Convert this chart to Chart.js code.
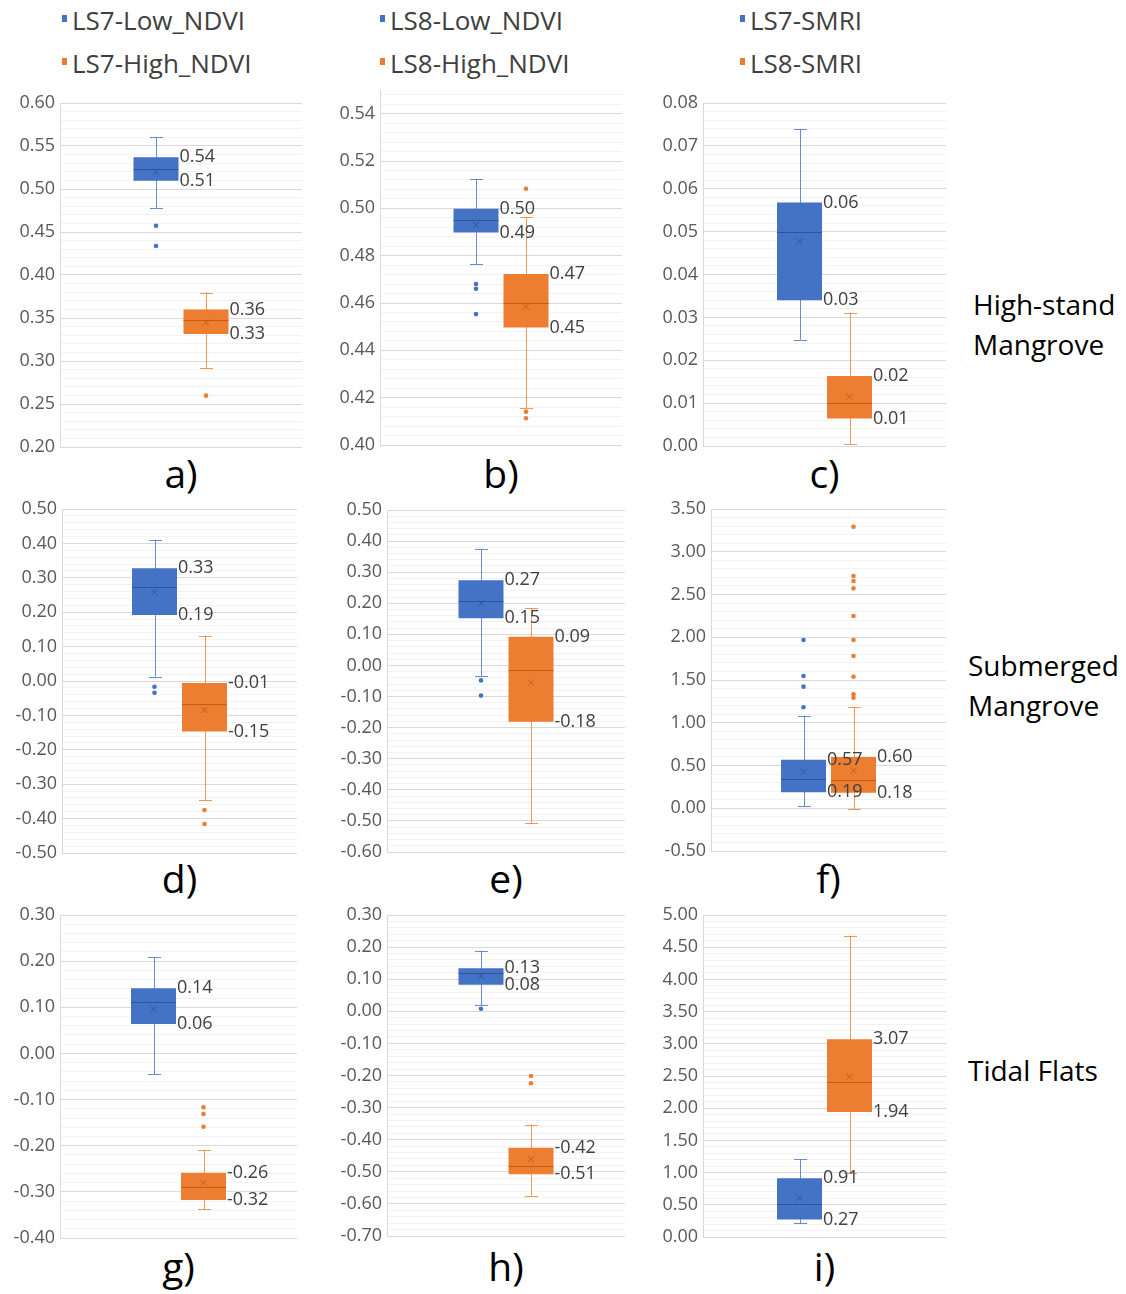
<!DOCTYPE html>
<html>
<head>
<meta charset="utf-8">
<script src="https://cdn.jsdelivr.net/npm/chart.js@4/dist/chart.umd.min.js"></script>
<style>
  body { margin: 0; width: 1126px; height: 1294px; background: #fff; position: relative; overflow: hidden; font-family: 'Open Sans', sans-serif; }
  canvas { position: absolute; }
  .leg { position: absolute; font-size: 26px; color: #404040; line-height: 30px; white-space: nowrap; }
  .leg i { display: inline-block; width: 5px; height: 7px; margin-right: 5px; vertical-align: 8px; }
  .plabel { position: absolute; font-size: 39px; color: #000; width: 120px; text-align: center; line-height: 44px; }
  .rlabel { position: absolute; font-size: 28px; color: #000; line-height: 40px; white-space: nowrap; }
</style>
</head>
<body>
<div id="legends"></div>
<script>
// series names per column of panels
const seriesBlue = ['LS7-Low_NDVI', 'LS8-Low_NDVI', 'LS7-SMRI'];
const seriesOrange = ['LS7-High_NDVI', 'LS8-High_NDVI', 'LS8-SMRI'];
const panelNames = ['a)', 'b)', 'c)', 'd)', 'e)', 'f)', 'g)', 'h)', 'i)'];
const rowNames = [['High-stand', 'Mangrove'], ['Submerged', 'Mangrove'], ['Tidal Flats']];

// box statistics, panels a..i
const lowBlue   = [0.478, 0.4763, 0.0248, 0.0126, -0.034, 0.026, -0.0453, 0.0196, 0.212];
const q1Blue    = [0.5097, 0.4898, 0.034, 0.1919, 0.1516, 0.188, 0.0638, 0.083, 0.27];
const medBlue   = [0.523, 0.4952, 0.050, 0.2742, 0.2073, 0.338, 0.1108, 0.1204, 0.512];
const q3Blue    = [0.537, 0.4998, 0.0568, 0.328, 0.274, 0.566, 0.1411, 0.134, 0.912];
const highBlue  = [0.560, 0.5124, 0.0739, 0.4099, 0.3736, 1.079, 0.2083, 0.1889, 1.206];
const meanBlue  = [0.520, 0.4930, 0.0477, 0.2578, 0.200, 0.428, 0.0963, 0.110, 0.61];
const outBlue   = [[0.4573, 0.4337], [0.468, 0.466, 0.4553], [], [-0.0166, -0.034], [-0.048, -0.097],
                   [1.968, 1.547, 1.422, 1.181], [], [0.0081], []];

const lowOrange  = [0.2915, 0.4156, 0.0005, -0.346, -0.508, -0.012, -0.3379, -0.5741, 0.989];
const q1Orange   = [0.3314, 0.4496, 0.0064, -0.147, -0.181, 0.182, -0.3177, -0.508, 1.94];
const medOrange  = [0.3477, 0.460, 0.0101, -0.0678, -0.0146, 0.330, -0.2902, -0.482, 2.411];
const q3Orange   = [0.360, 0.4723, 0.0163, -0.006, 0.092, 0.598, -0.2585, -0.4249, 3.07];
const highOrange = [0.3794, 0.4962, 0.0311, 0.1318, 0.1838, 1.181, -0.2093, -0.354, 4.679];
const meanOrange = [0.3445, 0.4585, 0.0115, -0.0843, -0.0555, 0.44, -0.2802, -0.461, 2.49];
const outOrange  = [[0.2597], [0.5083, 0.4141, 0.4113], [], [-0.375, -0.4157], [],
                    [3.293, 2.716, 2.658, 2.572, 2.249, 1.968, 1.781, 1.538, 1.333, 1.293],
                    [-0.1168, -0.1313, -0.1588], [-0.2016, -0.2243], []];

// value axes
const yMin  = [0.20, 0.40, 0.00, -0.50, -0.60, -0.50, -0.40, -0.70, 0.00];
const yMax  = [0.60, 0.55, 0.08, 0.50, 0.50, 3.50, 0.30, 0.30, 5.00];
const yStep = [0.05, 0.02, 0.01, 0.10, 0.10, 0.50, 0.10, 0.10, 0.50];

// plot area of each panel on the page: left, top, right, bottom
const plotBoxes = [
  [60, 103, 302, 447], [380, 90, 622, 445], [703, 103, 946, 446],
  [62, 509, 297, 853], [387, 510, 625, 852], [711, 509, 946, 851],
  [60, 915, 297, 1238], [387, 915, 625, 1236], [703, 915, 946, 1237]
];

const BLUE = '#4472C4', ORANGE = '#ED7D31';
const AXIS_W = 60, PAD_T = 20, PAD_B = 20, PAD_R = 8;

Chart.defaults.font.family = "'Open Sans', sans-serif";
Chart.defaults.font.size = 18;
Chart.defaults.color = '#595959';

// legend + text labels
const legends = document.getElementById('legends');
const legX = [62, 380, 740];
legX.forEach((x, c) => {
  legends.insertAdjacentHTML('beforeend',
    `<div class="leg" style="left:${x}px;top:5px"><i style="background:${BLUE}"></i>${seriesBlue[c]}</div>` +
    `<div class="leg" style="left:${x}px;top:48px"><i style="background:${ORANGE}"></i>${seriesOrange[c]}</div>`);
});
const panelLabelY = [475, 880, 1268];
panelNames.forEach((n, p) => {
  const b = plotBoxes[p];
  const cx = (b[0] + b[2]) / 2;
  legends.insertAdjacentHTML('beforeend',
    `<div class="plabel" style="left:${cx - 60}px;top:${panelLabelY[Math.floor(p / 3)] - 24}px">${n}</div>`);
});
const rowLabelPos = [[973, 304], [968, 665], [968, 1070]];
rowNames.forEach((lines, r) => {
  lines.forEach((t, k) => {
    legends.insertAdjacentHTML('beforeend',
      `<div class="rlabel" style="left:${rowLabelPos[r][0]}px;top:${rowLabelPos[r][1] + k * 40 - 20}px">${t}</div>`);
  });
});

function isMajor(v, p) {
  const k = (v - yMin[p]) / yStep[p];
  return Math.abs(k - Math.round(k)) < 1e-6;
}

// whiskers behind the boxes, median / mean / outliers / labels on top
const boxPlugin = {
  id: 'boxExtras',
  beforeDatasetsDraw(chart) {
    const ctx = chart.ctx, y = chart.scales.y;
    chart.data.datasets.forEach((ds, di) => {
      const bar = chart.getDatasetMeta(di).data[0];
      const s = ds.stats;
      const x = Math.round(bar.x) + 0.5;
      const cap = 13;
      ctx.save();
      ctx.strokeStyle = ds.whiskerColor;
      ctx.lineWidth = 1;
      ctx.beginPath();
      ctx.moveTo(x, y.getPixelForValue(s.low));
      ctx.lineTo(x, y.getPixelForValue(s.high));
      [s.low, s.high].forEach(v => {
        const py = Math.round(y.getPixelForValue(v)) + 0.5;
        ctx.moveTo(x - cap / 2, py);
        ctx.lineTo(x + cap / 2, py);
      });
      ctx.stroke();
      ctx.restore();
    });
  },
  afterDatasetsDraw(chart) {
    const ctx = chart.ctx, y = chart.scales.y;
    const metas = chart.data.datasets.map((ds, di) => chart.getDatasetMeta(di).data[0]);
    chart.data.datasets.forEach((ds, di) => {
      const bar = metas[di];
      const s = ds.stats;
      const left = bar.x - bar.width / 2, right = bar.x + bar.width / 2;
      ctx.save();
      // median
      ctx.strokeStyle = ds.markColor;
      ctx.lineWidth = 1;
      const my = Math.round(y.getPixelForValue(s.med)) + 0.5;
      ctx.beginPath();
      ctx.moveTo(left, my);
      ctx.lineTo(right, my);
      ctx.stroke();
      // mean marker
      const mx = bar.x, mny = y.getPixelForValue(s.mean);
      ctx.beginPath();
      ctx.moveTo(mx - 3, mny - 3); ctx.lineTo(mx + 3, mny + 3);
      ctx.moveTo(mx + 3, mny - 3); ctx.lineTo(mx - 3, mny + 3);
      ctx.stroke();
      // outliers
      ctx.fillStyle = ds.backgroundColor;
      s.out.forEach(v => {
        ctx.beginPath();
        ctx.arc(bar.x, y.getPixelForValue(v), 2.3, 0, Math.PI * 2);
        ctx.fill();
      });
      ctx.restore();
    });
    // quartile labels
    chart.data.datasets.forEach((ds, di) => {
      const bar = metas[di];
      const [q1, q3] = ds.data[0];
      ctx.save();
      ctx.font = "18px 'Open Sans', sans-serif";
      ctx.fillStyle = '#404040';
      ctx.textAlign = 'left';
      ctx.textBaseline = 'middle';
      const lx = bar.x + bar.width / 2 + 1;
      ctx.fillText(q3.toFixed(2), lx, y.getPixelForValue(q3));
      ctx.fillText(q1.toFixed(2), lx, y.getPixelForValue(q1));
      ctx.restore();
    });
  }
};

plotBoxes.forEach((b, p) => {
  const [L, T, R, B] = b;
  const cv = document.createElement('canvas');
  const w = (R - L) + AXIS_W + PAD_R, h = (B - T) + PAD_T + PAD_B;
  cv.width = w; cv.height = h;
  cv.style.left = (L - AXIS_W) + 'px';
  cv.style.top = (T - PAD_T) + 'px';
  cv.style.width = w + 'px'; cv.style.height = h + 'px';
  document.body.appendChild(cv);
  const col = p % 3;
  new Chart(cv.getContext('2d'), {
    type: 'bar',
    data: {
      labels: [''],
      datasets: [
        {
          label: seriesBlue[col],
          data: [[q1Blue[p], q3Blue[p]]],
          backgroundColor: BLUE,
          whiskerColor: 'rgba(68,114,196,0.8)',
          markColor: '#2f5597',
          stats: { low: lowBlue[p], med: medBlue[p], high: highBlue[p], mean: meanBlue[p], out: outBlue[p] }
        },
        {
          label: seriesOrange[col],
          data: [[q1Orange[p], q3Orange[p]]],
          backgroundColor: ORANGE,
          whiskerColor: 'rgba(237,125,49,0.8)',
          markColor: '#c55a11',
          stats: { low: lowOrange[p], med: medOrange[p], high: highOrange[p], mean: meanOrange[p], out: outOrange[p] }
        }
      ]
    },
    options: {
      responsive: false,
      animation: false,
      layout: { padding: { top: PAD_T, bottom: PAD_B, left: 0, right: PAD_R } },
      datasets: { bar: { categoryPercentage: 100 / (R - L), barPercentage: 0.9 } },
      plugins: { legend: { display: false }, tooltip: { enabled: false } },
      scales: {
        x: { display: false },
        y: {
          min: yMin[p],
          max: yMax[p],
          afterFit(scale) { scale.width = AXIS_W; },
          afterBuildTicks(scale) {
            const minor = yStep[p] / 5;
            const ticks = [];
            for (let k = 0; ; k++) {
              const v = Math.round((yMin[p] + k * minor) * 1e6) / 1e6;
              if (v > yMax[p] + 1e-9) break;
              ticks.push({ value: v });
            }
            scale.ticks = ticks;
          },
          ticks: {
            autoSkip: false,
            padding: 5,
            color: '#595959',
            callback(v) { return isMajor(v, p) ? v.toFixed(2) : ''; }
          },
          grid: {
            drawTicks: false,
            color(ctx) { return ctx.tick && isMajor(ctx.tick.value, p) ? '#d9d9d9' : '#f2f2f2'; }
          },
          border: { display: true, color: '#d9d9d9' }
        }
      }
    },
    plugins: [boxPlugin]
  });
});
</script>
</body>
</html>
